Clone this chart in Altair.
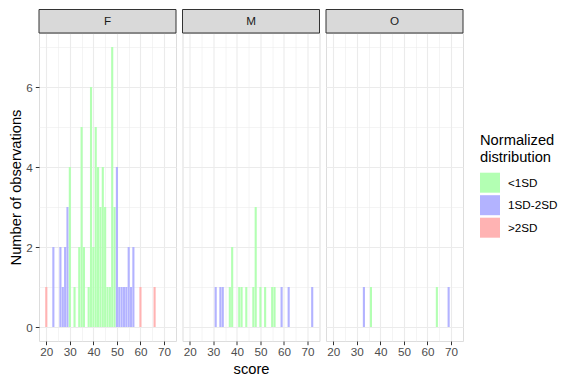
import altair as alt
import pandas as pd

# ---- data ----
groups = ["F", "M", "O"]

F_scores = [20, 23, 26, 27, 28, 29, 30, 32, 34, 35, 36, 38, 39, 40, 41, 42, 43, 44, 45,
            46, 47, 48, 49, 50, 51, 52, 53, 54, 55, 56, 57, 60, 66]
F_counts = [1, 2, 2, 1, 2, 3, 4, 1, 2, 5, 2, 1, 6, 2, 5, 4, 3, 4, 3,
            1, 1, 7, 3, 4, 1, 1, 1, 1, 2, 1, 2, 1, 1]
F_class = [">2SD", "1SD-2SD", "1SD-2SD", "1SD-2SD", "1SD-2SD", "1SD-2SD"] + ["<1SD"] * 17 + \
          ["1SD-2SD"] * 8 + [">2SD", ">2SD"]

M_scores = [31, 33, 34, 37, 38, 41, 42, 44, 47, 48, 50, 52, 55, 56, 59, 62, 72]
M_counts = [1, 1, 1, 1, 2, 1, 1, 1, 1, 3, 1, 1, 1, 1, 1, 1, 1]
M_class = ["1SD-2SD"] * 3 + ["<1SD"] * 11 + ["1SD-2SD"] * 3

O_scores = [33, 36, 64, 69]
O_counts = [1, 1, 1, 1]
O_class = ["1SD-2SD", "<1SD", "<1SD", "1SD-2SD"]

categories = ["<1SD", "1SD-2SD", ">2SD"]
palette = ["#B3FFB3", "#B3B3FF", "#FFB3B3"]

x_ticks = [20, 25, 30, 35, 40, 45, 50, 55, 60, 65, 70]
y_ticks = [0, 1, 2, 3, 4, 5, 6, 7]

frames = []
for g, s, c, k in [("F", F_scores, F_counts, F_class),
                   ("M", M_scores, M_counts, M_class),
                   ("O", O_scores, O_counts, O_class)]:
    frames.append(pd.DataFrame({"group": g, "score": s, "n": c, "cls": k}))
df = pd.concat(frames, ignore_index=True)

W, H, SH = 137, 308, 23.5
FONT = "Liberation Sans"

color = alt.Color("cls:N", scale=alt.Scale(domain=categories, range=palette),
                  legend=alt.Legend(title=["Normalized", "distribution"], orient="none",
                                    legendX=441, legendY=100,
                                    symbolType="square", symbolSize=400,
                                    symbolStrokeWidth=0, symbolOpacity=1,
                                    labelFontSize=11.7, titleFontSize=14.7,
                                    labelColor="#000000", titleColor="#000000",
                                    titleFontWeight="normal", rowPadding=2.5,
                                    labelOffset=8, titlePadding=8, labelFont=FONT,
                                    titleFont=FONT, titleLineHeight=17))


def panel(g, first, middle):
    xaxis = alt.Axis(values=x_ticks, title="score" if middle else None,
                     labelExpr="datum.value % 10 == 0 ? datum.label : ''",
                     tickOpacity={"condition": {"test": "datum.value % 10 == 0", "value": 1}, "value": 0},
                     gridWidth={"condition": {"test": "datum.value % 10 == 0", "value": 1.1}, "value": 0.55},
                     gridColor="#EBEBEB", tickColor="#333333", tickSize=3.7,
                     labelColor="#4D4D4D", labelFontSize=11.7, labelFont=FONT,
                     titleFontSize=14.7, titleFont=FONT, titleFontWeight="normal",
                     titleColor="#000000", domain=False, labelPadding=2, titlePadding=3)
    if first:
        yaxis = alt.Axis(values=y_ticks, title="Number of observations",
                         labelExpr="datum.value % 2 == 0 ? datum.label : ''",
                         tickOpacity={"condition": {"test": "datum.value % 2 == 0", "value": 1}, "value": 0},
                         gridWidth={"condition": {"test": "datum.value % 2 == 0", "value": 1.1}, "value": 0.55},
                         gridColor="#EBEBEB", tickColor="#333333", tickSize=3.7,
                         labelColor="#4D4D4D", labelFontSize=11.7, labelFont=FONT,
                         titleFontSize=14.7, titleFont=FONT, titleFontWeight="normal",
                         titleColor="#000000", domain=False, labelPadding=3, titlePadding=2)
    else:
        yaxis = alt.Axis(values=y_ticks, title=None, labels=False, ticks=False, domain=False,
                         gridWidth={"condition": {"test": "datum.value % 2 == 0", "value": 1.1}, "value": 0.55},
                         gridColor="#EBEBEB")

    base = alt.Chart(df).transform_filter(alt.datum.group == g)
    bars = base.transform_calculate(x0="datum.score - 0.45", x1="datum.score + 0.45").mark_bar(
        strokeWidth=0, opacity=1).encode(
        x=alt.X("x0:Q", scale=alt.Scale(domain=[16.9, 75.1], nice=False, zero=False), axis=xaxis),
        x2="x1:Q",
        y=alt.Y("n:Q", scale=alt.Scale(domain=[-0.35, 7.35], nice=False, zero=False), axis=yaxis),
        y2=alt.datum(0),
        color=color,
    )
    strip_df = pd.DataFrame({"group": [g]})
    strip = alt.Chart(strip_df).mark_rect(fill="#D9D9D9", stroke="#333333", strokeWidth=1).encode(
        x=alt.value(0), x2=alt.value(W), y=alt.value(-SH), y2=alt.value(0))
    label = alt.Chart(strip_df).mark_text(font=FONT, fontSize=11.7, color="#1A1A1A").encode(
        x=alt.value(W / 2), y=alt.value(-SH / 2), text="group:N")
    return alt.layer(bars, strip, label).properties(width=W, height=H)


chart = alt.hconcat(panel("F", True, False), panel("M", False, True), panel("O", False, False),
                    spacing=4.5).resolve_scale(color="shared").properties(
    padding={"left": 0, "top": 0, "right": 0, "bottom": 0}
).configure_view(stroke="#333333", strokeWidth=1.1).configure(background="white")

chart.save("out.html", embed_options={"renderer": "svg", "actions": False})
